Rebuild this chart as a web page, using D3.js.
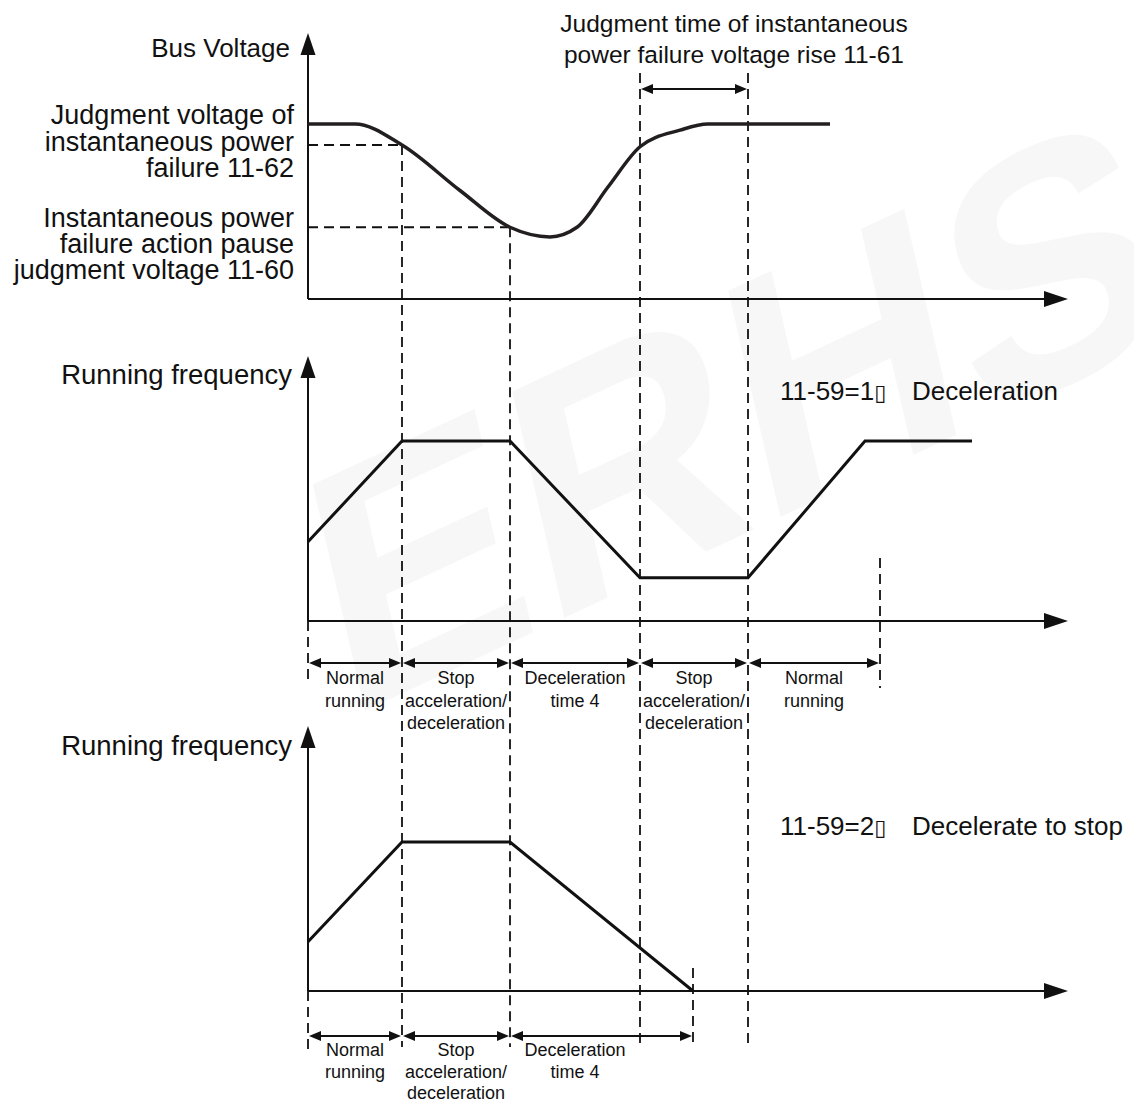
<!DOCTYPE html>
<html>
<head>
<meta charset="utf-8">
<script src="https://cdn.jsdelivr.net/npm/d3@7"></script>
<style>
  body { margin: 0; background: #fff; }
  svg text { font-family: "Liberation Sans", Arial, sans-serif; fill: #111; }
</style>
</head>
<body>
<svg id="chart"></svg>
<script>
// time in arbitrary units along every panel, values in % of nominal
const busTime = [0, 47, 94, 152, 202, 242, 269, 300, 332, 372, 400, 522];
const busVolt = [100, 100, 88, 62, 41, 35.5, 41, 64, 87, 96.5, 100, 100];

const freq1Time = [0, 94, 202, 332, 440, 557, 664];
const freq1Val = [44, 100, 100, 24, 24, 100, 100];

const freq2Time = [0, 94, 202, 385];
const freq2Val = [33, 100, 100, 0];

const judgeLevels = [88, 41];          // 11-62, 11-60
const judgeTimes = [94, 202];          // where the curve crosses them
const riseTimes = [332, 440];          // 11-61 window

const bounds1 = [0, 94, 202, 332, 440, 572];
const labels1 = [["Normal", "running"], ["Stop", "acceleration/", "deceleration"],
  ["Deceleration", "time 4"], ["Stop", "acceleration/", "deceleration"], ["Normal", "running"]];
const bounds2 = [0, 94, 202, 385];
const labels2 = [["Normal", "running"], ["Stop", "acceleration/", "deceleration"], ["Deceleration", "time 4"]];
const labels2Mid = [47, 148, 267];

const judge62Label = ["Judgment voltage of", "instantaneous power", "failure 11-62"];
const judge60Label = ["Instantaneous power", "failure action pause", "judgment voltage 11-60"];
const riseLabel = ["Judgment time of instantaneous", "power failure voltage rise 11-61"];

const width = 1134;
const height = 1104;

const svg = d3.select("#chart")
    .attr("width", width)
    .attr("height", height);

// faint watermark
svg.append("text")
    .attr("transform", "translate(345,720) rotate(-25) skewX(-12)")
    .style("font-size", "330px")
    .style("font-weight", "bold")
    .style("fill", "#f7f7f7")
    .text("ERHSA");

const x = d3.scaleLinear().domain([0, 760]).range([308, 1068]);

const panels = [
    { y: d3.scaleLinear().domain([0, 100]).range([299, 124]), top: 33 },
    { y: d3.scaleLinear().domain([0, 100]).range([621, 441]), top: 356 },
    { y: d3.scaleLinear().domain([0, 100]).range([991, 842]), top: 726 }
];

const dash = "10,6";

function dashed(x1, y1, x2, y2) {
    svg.append("line")
        .attr("x1", x1).attr("y1", y1).attr("x2", x2).attr("y2", y2)
        .attr("stroke", "#111")
        .attr("stroke-width", 1.8)
        .attr("stroke-dasharray", dash);
}

function axes(p) {
    const x0 = x(0), y0 = p.y(0);
    svg.append("line")
        .attr("x1", x0).attr("y1", y0).attr("x2", x0).attr("y2", p.top + 18)
        .attr("stroke", "#111").attr("stroke-width", 2);
    svg.append("path")
        .attr("d", `M${x0},${p.top} L${x0 - 7.5},${p.top + 22} L${x0 + 7.5},${p.top + 22} Z`)
        .attr("fill", "#111");
    const xe = x(760);
    svg.append("line")
        .attr("x1", x0).attr("y1", y0).attr("x2", xe - 20).attr("y2", y0)
        .attr("stroke", "#111").attr("stroke-width", 2);
    svg.append("path")
        .attr("d", `M${xe},${y0} L${xe - 24},${y0 - 8} L${xe - 24},${y0 + 8} Z`)
        .attr("fill", "#111");
}

function doubleArrow(xa, xb, y) {
    svg.append("line")
        .attr("x1", xa + 4).attr("y1", y).attr("x2", xb - 4).attr("y2", y)
        .attr("stroke", "#111").attr("stroke-width", 2);
    svg.append("path")
        .attr("d", `M${xa + 1},${y} L${xa + 13},${y - 5} L${xa + 13},${y + 5} Z M${xb - 1},${y} L${xb - 13},${y - 5} L${xb - 13},${y + 5} Z`)
        .attr("fill", "#111");
}

function multiline(lines, xp, y0, step, anchor, size) {
    const t = svg.append("text")
        .attr("text-anchor", anchor)
        .style("font-size", size + "px");
    lines.forEach((s, i) => {
        t.append("tspan").attr("x", xp).attr("y", y0 + i * step).text(s);
    });
    return t;
}

function modeLabel(code, desc, y) {
    const t = svg.append("text").style("font-size", "26px");
    t.append("tspan").attr("x", 780).attr("y", y).text(code);
    t.append("tspan").style("font-family", "DejaVu Sans").style("font-size", "22px").text("\u25AF");
    t.append("tspan").attr("x", 912).attr("y", y).text(desc);
}

panels.forEach(axes);

// ---- vertical guide lines
dashed(x(judgeTimes[0]), panels[0].y(judgeLevels[0]), x(judgeTimes[0]), 1047);
dashed(x(judgeTimes[1]), panels[0].y(judgeLevels[1]), x(judgeTimes[1]), 1047);
riseTimes.forEach(t => dashed(x(t), 73, x(t), 1047));
dashed(x(0), panels[1].y(0), x(0), 682);
dashed(x(bounds1[5]), 558, x(bounds1[5]), 688);
dashed(x(0), panels[2].y(0), x(0), 1050);
dashed(x(bounds2[3]), 968, x(bounds2[3]), 1047);

// ---- threshold lines
judgeLevels.forEach((v, i) => dashed(x(0), panels[0].y(v), x(judgeTimes[i]), panels[0].y(v)));

// ---- curves
const busLine = d3.line()
    .x((d, i) => x(busTime[i]))
    .y(d => panels[0].y(d))
    .curve(d3.curveMonotoneX);

svg.append("path")
    .attr("d", busLine(busVolt))
    .attr("fill", "none")
    .attr("stroke", "#231f20")
    .attr("stroke-width", 3.5);

const f1Line = d3.line()
    .x((d, i) => x(freq1Time[i]))
    .y(d => panels[1].y(d));

svg.append("path")
    .attr("d", f1Line(freq1Val))
    .attr("fill", "none")
    .attr("stroke", "#111")
    .attr("stroke-width", 3);

const f2Line = d3.line()
    .x((d, i) => x(freq2Time[i]))
    .y(d => panels[2].y(d));

svg.append("path")
    .attr("d", f2Line(freq2Val))
    .attr("fill", "none")
    .attr("stroke", "#111")
    .attr("stroke-width", 3);

// ---- 11-61 window arrow
doubleArrow(x(riseTimes[0]), x(riseTimes[1]), 89);

// ---- segment arrows and labels
for (let i = 0; i < labels1.length; i++) {
    doubleArrow(x(bounds1[i]), x(bounds1[i + 1]), 663);
    multiline(labels1[i], (x(bounds1[i]) + x(bounds1[i + 1])) / 2, 684, 22.5, "middle", 18);
}
for (let i = 0; i < labels2.length; i++) {
    doubleArrow(x(bounds2[i]), x(bounds2[i + 1]), 1036);
    multiline(labels2[i], x(labels2Mid[i]), 1056, 21.5, "middle", 18);
}

// ---- titles
multiline(["Bus Voltage"], 290, 57, 0, "end", 26);
multiline(judge62Label, 294, 124, 26.5, "end", 27);
multiline(judge60Label, 294, 227, 25.8, "end", 27);
multiline(riseLabel, 734, 32, 31, "middle", 24.5);
multiline(["Running frequency"], 292, 384, 0, "end", 27.5);
multiline(["Running frequency"], 292, 755, 0, "end", 27.5);
modeLabel("11-59=1", "Deceleration", 400);
modeLabel("11-59=2", "Decelerate to stop", 835);
</script>
</body>
</html>
